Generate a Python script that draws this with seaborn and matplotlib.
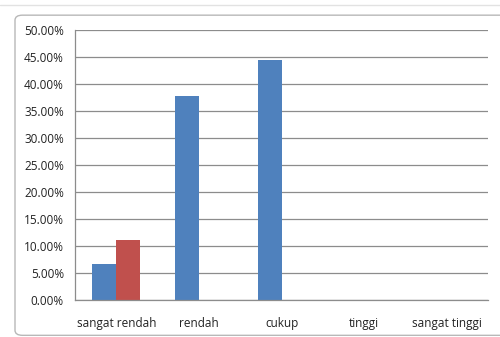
import numpy as np
import pandas as pd
import matplotlib
matplotlib.use("Agg")
import matplotlib.pyplot as plt
from matplotlib.patches import FancyBboxPatch
from matplotlib.ticker import FixedLocator, FuncFormatter
import seaborn as sns

# data
kategori = ['sangat rendah', 'rendah', 'cukup', 'tinggi', 'sangat tinggi']
seri_1 = [6.67, 37.78, 44.44, 0.0, 0.0]
seri_2 = [11.11, 0.0, 0.0, 0.0, 0.0]

df = pd.DataFrame({
    'kategori': kategori * 2,
    'persen': seri_1 + seri_2,
    'seri': ['Seri 1'] * len(kategori) + ['Seri 2'] * len(kategori),
})

sns.set_style('white')
plt.rcParams['font.family'] = ['Open Sans', 'DejaVu Sans']

fig = plt.figure(figsize=(5.0, 3.37), dpi=100)
fig.patch.set_facecolor('white')

# excel chart frame (behind the axes)
frame = FancyBboxPatch((0.03, 0.005), 0.99, 0.95, boxstyle='round,pad=0,rounding_size=0.015',
                       transform=fig.transFigure, facecolor='white', edgecolor='#b8b8b8',
                       linewidth=1.0, zorder=-10)
fig.add_artist(frame)
fig.add_artist(plt.Line2D([0, 1], [0.985, 0.985], transform=fig.transFigure,
                          color='#e2e2e2', linewidth=1, zorder=-10))

ax = fig.add_axes([0.15, 0.110, 0.826, 0.801])
ax.patch.set_alpha(0)

sns.barplot(data=df, x='kategori', y='persen', hue='seri', order=kategori,
            palette=['#4f81bd', '#c0504d'], saturation=1, width=0.58, linewidth=0,
            legend=False, ax=ax)

ax.set_ylim(0, 50)
ax.set_xlim(-0.5, len(kategori) - 0.5)
ax.set_yticks(np.arange(0, 50.01, 5))
ax.yaxis.set_major_formatter(FuncFormatter(lambda v, p: f'{v:.2f}%'))
ax.grid(axis='y', color='#8c8c8c', linewidth=0.9)
ax.set_axisbelow(True)

# ticks between categories, labels at centres
ax.xaxis.set_major_locator(FixedLocator(np.arange(-0.5, len(kategori), 1)))
ax.xaxis.set_minor_locator(FixedLocator(np.arange(len(kategori))))
ax.xaxis.set_major_formatter(FuncFormatter(lambda v, p: ''))
ax.set_xticklabels(kategori, minor=True)
ax.tick_params(axis='x', which='major', direction='out', length=4, color='#8c8c8c', width=0.9)
ax.tick_params(axis='x', which='minor', length=0, pad=12, labelsize=8.5, labelcolor='#222222')
ax.tick_params(axis='y', direction='out', length=4, color='#8c8c8c', width=0.9,
               labelsize=8.5, labelcolor='#222222', pad=4)

for side in ['top', 'right']:
    ax.spines[side].set_visible(False)
for side in ['left', 'bottom']:
    ax.spines[side].set_color('#8c8c8c')
    ax.spines[side].set_linewidth(0.9)

ax.set_xlabel('')
ax.set_ylabel('')

fig.savefig('out.png', dpi=100)
